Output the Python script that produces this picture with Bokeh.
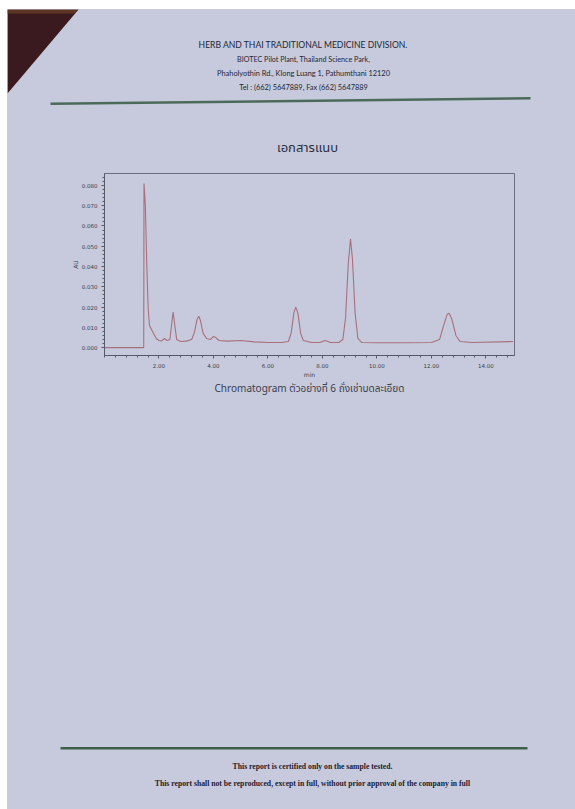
from bokeh.plotting import figure
from bokeh.models import Label, FixedTicker, NumeralTickFormatter, Range1d, Spacer
from bokeh.layouts import column, row
from bokeh.embed import file_html
from bokeh.resources import INLINE

# ---- data ----
time_min = [0.00, 1.42, 1.44, 1.45, 1.50, 1.55, 1.60, 1.65, 1.72, 1.80, 1.90, 2.00, 2.10, 2.20,
            2.30, 2.40, 2.46, 2.52, 2.58, 2.65, 2.80, 3.00, 3.20, 3.30, 3.40, 3.46, 3.52, 3.62,
            3.75, 3.90, 4.00, 4.08, 4.20, 4.50, 5.00, 5.50, 6.00, 6.50, 6.75, 6.85, 6.95, 7.02,
            7.10, 7.20, 7.30, 7.60, 7.90, 8.10, 8.30, 8.60, 8.75, 8.85, 8.95, 9.03, 9.10, 9.20,
            9.30, 9.45, 10.00, 11.00, 12.00, 12.30, 12.45, 12.58, 12.65, 12.75, 12.90, 13.05,
            13.50, 15.00]
absorbance_au = [0.0000, 0.0000, 0.0000, 0.0810, 0.0700, 0.0420, 0.0200, 0.0110, 0.0090, 0.0070,
                 0.0045, 0.0035, 0.0033, 0.0045, 0.0035, 0.0040, 0.0110, 0.0175, 0.0110, 0.0040,
                 0.0030, 0.0032, 0.0040, 0.0075, 0.0140, 0.0155, 0.0135, 0.0070, 0.0045, 0.0040,
                 0.0055, 0.0050, 0.0035, 0.0032, 0.0035, 0.0028, 0.0025, 0.0025, 0.0030, 0.0070,
                 0.0170, 0.0200, 0.0170, 0.0070, 0.0035, 0.0025, 0.0025, 0.0035, 0.0025, 0.0025,
                 0.0040, 0.0150, 0.0420, 0.0535, 0.0440, 0.0170, 0.0045, 0.0025, 0.0024, 0.0024,
                 0.0025, 0.0040, 0.0110, 0.0165, 0.0170, 0.0140, 0.0060, 0.0030, 0.0025, 0.0030]
x_ticks = [2, 4, 6, 8, 10, 12, 14]
y_ticks = [0.00, 0.01, 0.02, 0.03, 0.04, 0.05, 0.06, 0.07, 0.08]

header_lines = ["HERB AND THAI TRADITIONAL MEDICINE DIVISION.",
                "BIOTEC Pilot Plant, Thailand Science Park,",
                "Phaholyothin Rd., Klong Luang 1, Pathumthani 12120",
                "Tel : (662) 5647889, Fax (662) 5647889"]
title_text = "เอกสารแนบ"
caption_text = "Chromatogram ตัวอย่างที่ 6 ถั่งเช่าบดละเอียด"
footer_lines = ["This report is certified only on the sample tested.",
                "This report shall not be reproduced, except in full, without prior approval of the company in full"]

# ---- page layout (page pixel coordinates) ----
PAGE_W, PAGE_H = 575, 809
LEFT_WHITE, TOP_WHITE = 7, 9
TOP_END, CHART_END = 160, 380
FL, FR, FT, FB = 104, 514, 173, 357
PAPER = "#c6cadc"
FIG_W = PAGE_W - LEFT_WHITE


def page_fig(y_top, y_bottom):
    f = figure(width=FIG_W, height=y_bottom - y_top, output_backend="svg", toolbar_location=None,
               x_range=Range1d(LEFT_WHITE, PAGE_W), y_range=Range1d(y_bottom, y_top),
               min_border=0, x_axis_type=None, y_axis_type=None, frame_align=False)
    f.border_fill_color = PAPER
    f.background_fill_color = PAPER
    f.outline_line_color = None
    f.grid.visible = False
    return f


# --- header part ---
top = page_fig(TOP_WHITE, TOP_END)
top.patch([7, 78, 7], [9, 9, 93], fill_color="#3a1a1e", line_color=None)
top.patch([7, 78, 74, 7], [9, 9, 13, 13], fill_color="#5e3422", line_color=None)
top.patch([50, 530, 530, 50], [102, 96.5, 99, 104.5], fill_color="#4c6a5a", line_color=None)
hdr_y = [44, 59, 73, 87]
hdr_size = ["8.6px", "7.2px", "7.4px", "7.4px"]
for t, yy, fs in zip(header_lines, hdr_y, hdr_size):
    top.add_layout(Label(x=303, y=yy, text=t, text_align="center", text_baseline="middle",
                         text_font="Lato", text_font_size=fs,
                         text_color="#232738"))
top.add_layout(Label(x=307, y=147, text=title_text, text_align="center",
                     text_baseline="middle", text_font="Noto Sans Thai, Noto Sans, sans-serif",
                     text_font_size="13px", text_color="#2c2f3c"))

# --- chromatogram ---
p = figure(width=FIG_W, height=CHART_END - TOP_END, output_backend="svg", toolbar_location=None,
           x_range=Range1d(0.0, 15.05), y_range=Range1d(-0.0039, 0.0859),
           min_border_left=FL - LEFT_WHITE, min_border_right=PAGE_W - FR,
           min_border_top=FT - TOP_END, min_border_bottom=CHART_END - FB, frame_align=False)
p.border_fill_color = PAPER
p.background_fill_color = PAPER
p.outline_line_color = "#6a6e7e"
p.outline_line_width = 1
p.grid.visible = False
p.line(time_min, absorbance_au, line_color="#a8707c", line_width=1.1)

for ax in (p.xaxis[0], p.yaxis[0]):
    ax.axis_line_color = "#555a68"
    ax.major_tick_line_color = "#555a68"
    ax.minor_tick_line_color = "#555a68"
    ax.major_label_text_font = "DejaVu Sans"
    ax.major_label_text_font_size = "5.5px"
    ax.major_label_text_color = "#3a3d48"
    ax.axis_label_text_font = "DejaVu Sans"
    ax.axis_label_text_font_size = "6px"
    ax.axis_label_text_font_style = "normal"
    ax.axis_label_text_color = "#3a3d48"
    ax.major_tick_out = 3
    ax.major_tick_in = 0
    ax.minor_tick_out = 2
    ax.minor_tick_in = 0

p.xaxis.ticker = FixedTicker(ticks=x_ticks, minor_ticks=[i * 0.4 for i in range(0, 38)])
p.yaxis.ticker = FixedTicker(ticks=y_ticks, minor_ticks=[i * 0.002 for i in range(0, 43)])
p.xaxis.formatter = NumeralTickFormatter(format="0.00")
p.yaxis.formatter = NumeralTickFormatter(format="0.000")
p.xaxis.axis_label = "min"
p.yaxis.axis_label = "AU"
p.xaxis.major_label_standoff = 4
p.yaxis.major_label_standoff = 4
p.xaxis.axis_label_standoff = 0
p.yaxis.axis_label_standoff = 0

# --- caption and footer ---
bot = page_fig(CHART_END, PAGE_H)
bot.add_layout(Label(x=309, y=388, text=caption_text, text_align="center",
                     text_baseline="middle", text_font="Noto Sans Thai, Noto Sans, sans-serif",
                     text_font_size="10px", text_color="#3c4050"))
bot.patch([60, 527, 527, 60], [746.5, 746.5, 749, 749], fill_color="#3f5e4c", line_color=None)
for t, yy in zip(footer_lines, [766, 783]):
    bot.add_layout(Label(x=312, y=yy, text=t, text_align="center", text_baseline="middle",
                         text_font="Liberation Serif", text_font_style="bold",
                         text_font_size="7.7px", text_color="#1e2030"))

page = column(top, p, bot, spacing=0, styles={"background-color": PAPER})
layout = row(Spacer(width=LEFT_WHITE, height=PAGE_H),
             column(Spacer(width=FIG_W, height=TOP_WHITE), page, spacing=0),
             spacing=0)

open("out.html", "w").write(file_html(layout, INLINE))
